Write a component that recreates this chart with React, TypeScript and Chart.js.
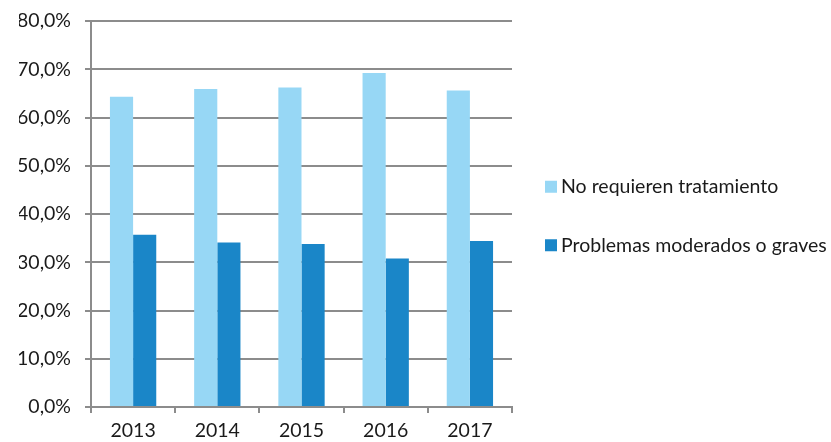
import React, { useEffect, useRef } from "react";
import { Chart, registerables } from "chart.js";

Chart.register(...registerables);

const years = ["2013", "2014", "2015", "2016", "2017"];
const noRequieren = [64.3, 65.9, 66.2, 69.2, 65.6];
const problemas = [35.7, 34.1, 33.8, 30.8, 34.4];
const seriesNames = ["No requieren tratamiento", "Problemas moderados o graves"];
const colors = ["#97D7F5", "#1A86C8"];

const FONT = "Lato, 'Open Sans', sans-serif";
const FONT_SIZE = 19.5;

const sideLegend = {
  id: "sideLegend",
  afterDraw(chart: any) {
    const { ctx, chartArea } = chart;
    const x0 = chartArea.right + 33;
    const midY = (chartArea.top + chartArea.bottom) / 2;
    const gap = 58.5;
    ctx.save();
    ctx.font = `${FONT_SIZE}px ${FONT}`;
    ctx.textBaseline = "middle";
    ctx.textAlign = "left";
    chart.data.datasets.forEach((ds: any, i: number) => {
      const y = midY - gap / 2 + i * gap + 2;
      ctx.fillStyle = ds.backgroundColor;
      ctx.fillRect(x0, y - 6, 12, 12);
      ctx.fillStyle = "#1a1a1a";
      ctx.fillText(ds.label, x0 + 16, y);
    });
    ctx.restore();
  },
};

export default function App() {
  const ref = useRef<HTMLCanvasElement>(null);
  useEffect(() => {
    const ctx = ref.current!;
    const chart = new Chart(ctx, {
      type: "bar",
      data: {
        labels: years,
        datasets: [
          {
            label: seriesNames[0],
            data: noRequieren,
            backgroundColor: colors[0],
            barPercentage: 1.0,
            categoryPercentage: 0.55,
          },
          {
            label: seriesNames[1],
            data: problemas,
            backgroundColor: colors[1],
            barPercentage: 1.0,
            categoryPercentage: 0.55,
          },
        ],
      },
      options: {
        animation: false,
        responsive: false,
        maintainAspectRatio: false,
        layout: { padding: { top: 21, left: 19, right: 319, bottom: 0 } },
        plugins: {
          tooltip: { enabled: false },
          legend: { display: false },
        },
        scales: {
          x: {
            afterFit: (scale: any) => {
              scale.height = 35;
            },
            grid: {
              display: true,
              drawOnChartArea: false,
              drawTicks: true,
              tickLength: 6,
              color: "#8c8c8c",
              lineWidth: 2,
            },
            border: { display: true, color: "#8c8c8c", width: 2 },
            ticks: {
              color: "#1a1a1a",
              font: { family: FONT, size: FONT_SIZE },
              padding: 6,
            },
          },
          y: {
            min: 0,
            max: 80,
            afterFit: (scale: any) => {
              scale.width = 72;
              scale.paddingTop = 0;
              scale.paddingBottom = 0;
            },
            ticks: {
              stepSize: 10,
              color: "#1a1a1a",
              font: { family: FONT, size: FONT_SIZE },
              padding: 14,
              callback: (v: any) => Number(v).toFixed(1).replace(".", ",") + "%",
            },
            grid: {
              color: "#8c8c8c",
              lineWidth: 2,
              tickLength: 6,
            },
            border: { display: true, color: "#8c8c8c", width: 2 },
          },
        },
      },
      plugins: [sideLegend],
    });
    return () => chart.destroy();
  }, []);
  return (
    <div style={{ position: "fixed", left: 0, top: 0, width: 831, height: 442, background: "#fff" }}>
      <canvas ref={ref} width={831} height={442} />
    </div>
  );
}
